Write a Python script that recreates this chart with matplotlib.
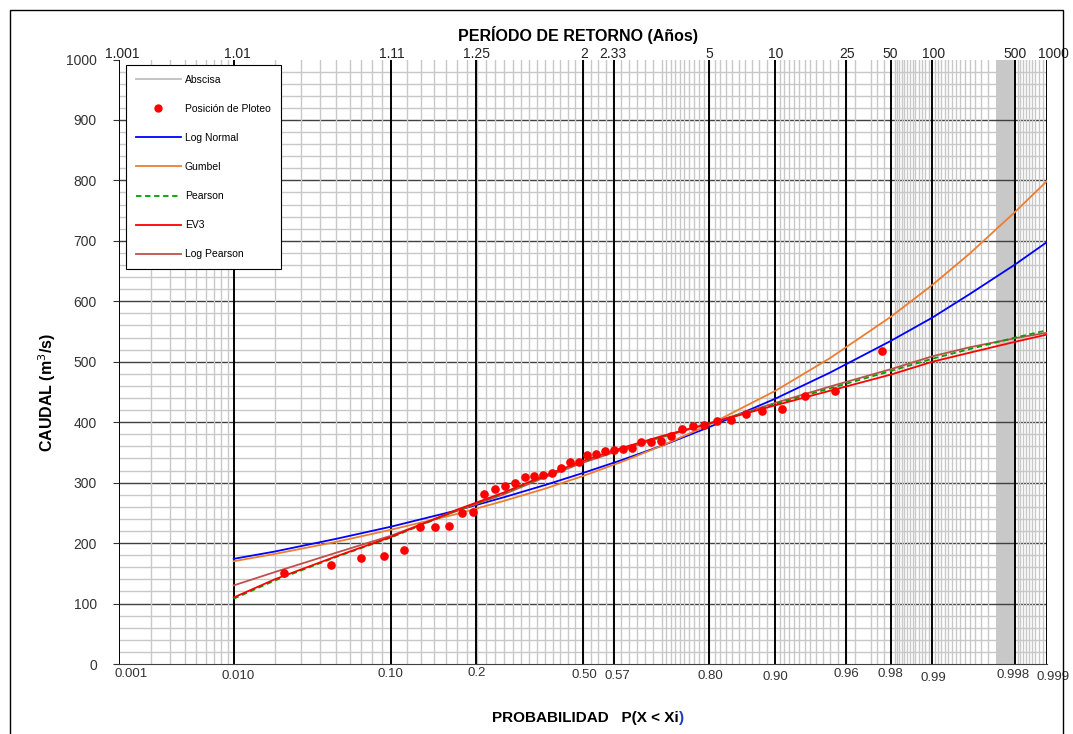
import matplotlib
matplotlib.use("Agg")
import matplotlib.pyplot as plt
from matplotlib.lines import Line2D
from matplotlib.patches import Rectangle
import numpy as np
from statistics import NormalDist

plt.rcParams['font.family'] = ['Liberation Sans', 'DejaVu Sans']

# plotting positions (Weibull m/(n+1), n = 42) and observed discharges
prob_obs = [0.0233, 0.0465, 0.0698, 0.0930, 0.1163, 0.1395, 0.1628, 0.1860, 0.2093, 0.2326,
            0.2558, 0.2791, 0.3023, 0.3256, 0.3488, 0.3721, 0.3953, 0.4186, 0.4419, 0.4651,
            0.4884, 0.5116, 0.5349, 0.5581, 0.5814, 0.6047, 0.6279, 0.6512, 0.6744, 0.6977,
            0.7209, 0.7442, 0.7674, 0.7907, 0.8140, 0.8372, 0.8605, 0.8837, 0.9070, 0.9302,
            0.9535, 0.9767]
caudal_obs = [150, 164, 175, 178, 189, 226, 227, 228, 249, 251,
              282, 290, 295, 299, 310, 311, 312, 316, 324, 334,
              334, 345, 347, 353, 354, 355, 357, 367, 367, 369,
              377, 389, 393, 396, 402, 403, 414, 419, 422, 444,
              452, 518]

# fitted distributions, read at these probabilities
prob_fit = [0.01, 0.02, 0.05, 0.1, 0.2, 0.3, 0.4, 0.5, 0.6, 0.7, 0.8, 0.9,
            0.95, 0.98, 0.99, 0.995, 0.998, 0.999]
log_normal = [174, 186, 207, 227, 254, 276, 296, 316, 337, 361, 392, 439, 482, 535, 573, 612, 661, 698]
gumbel = [170, 182, 202, 222, 248, 270, 290, 311, 334, 361, 396, 452, 506, 575, 627, 679, 748, 799]
pearson = [108, 138, 177, 209, 254, 283, 311, 335, 356, 376, 398, 430, 456, 485, 505, 521, 540, 552]
ev3 = [110, 140, 178, 210, 255, 284, 312, 336, 357, 377, 398, 428, 452, 479, 500, 515, 533, 545]
log_pearson = [130, 152, 184, 212, 253, 281, 309, 333, 354, 375, 398, 432, 459, 488, 509, 524, 539, 548]

# axis labels
prob_ticks = [0.001, 0.01, 0.1, 0.239, 0.5, 0.581, 0.8, 0.9, 0.96, 0.98, 0.99, 0.998, 0.999]
prob_labels = ['0.001', '0.010', '0.10', '0.2', '0.50', '0.57', '0.80', '0.90',
               '0.96', '0.98', '0.99', '0.998', '0.999']
period_labels = ['1.001', '1.01', '1.11', '1.25', '2', '2.33', '5', '10',
                 '25', '50', '100', '500', '1000']

# normal probability scale
nd = NormalDist()
_ppf = np.vectorize(lambda p: nd.inv_cdf(min(max(p, 1e-9), 1 - 1e-9)) if p == p else np.nan,
                    otypes=[float])
_cdf = np.vectorize(lambda z: nd.cdf(z) if z == z else np.nan, otypes=[float])


def fwd(p):
    return _ppf(np.asarray(p, dtype=float))


def inv(z):
    return _cdf(np.asarray(z, dtype=float))


fig = plt.figure(figsize=(10.73, 7.34), dpi=100)
ax = fig.add_axes([119 / 1073, 1 - 664 / 734, 928 / 1073, 604.5 / 734])
ax.set_xscale('function', functions=(fwd, inv))
ax.set_xlim(0.001, 0.999)
ax.set_ylim(0, 1000)

# probability paper grid
minor_p = np.concatenate([
    np.arange(0.002, 0.0095, 0.001),
    np.arange(0.02, 0.095, 0.01),
    np.arange(0.12, 0.70, 0.02),
    np.arange(0.70, 0.895, 0.01),
    np.arange(0.905, 0.97, 0.005),
    np.arange(0.9725, 0.98, 0.0025),
    np.arange(0.981, 0.99, 0.0007),
    np.arange(0.9905, 0.997, 0.0005),
    np.arange(0.9981, 0.999, 0.0001),
])
ax.axvspan(0.997, 0.998, color='#c8c8c8', lw=0, zorder=0.5)
for y in range(20, 1000, 20):
    if y % 100:
        ax.axhline(y, color='#c8c8c8', lw=1.0, zorder=0.6)
for y in range(100, 1000, 100):
    ax.axhline(y, color='#404040', lw=1.0, zorder=0.7)
for p in minor_p:
    ax.axvline(p, color='#c8c8c8', lw=1.0, zorder=0.8)
for p in prob_ticks:
    ax.axvline(p, color='black', lw=1.4, zorder=0.9)

# data
ax.plot(prob_fit, log_normal, color='#0000ff', lw=1.3, zorder=3)
ax.plot(prob_fit, gumbel, color='#ed7d31', lw=1.3, zorder=3)
ax.plot(prob_fit, log_pearson, color='#c0504d', lw=1.3, zorder=3)
ax.plot(prob_fit, pearson, color='#00a000', lw=1.3, ls=(0, (3, 2)), zorder=3)
ax.plot(prob_fit, ev3, color='#ff0000', lw=1.3, zorder=3.5)
ax.plot(prob_obs, caudal_obs, 'o', color='#ff0000', ms=5.2, zorder=4)

# axes style
ax.set_xticks([])
ax.set_xticks([], minor=True)
ax.set_yticks(range(0, 1001, 100))
ax.tick_params(axis='y', length=4, width=0.8, pad=12, labelsize=10, colors='#333333')
for s in ax.spines.values():
    s.set_visible(False)
ax.spines['bottom'].set_visible(True)
ax.spines['bottom'].set_color('#404040')

trans = ax.get_xaxis_transform()
bottom_dx = [12, 4, 0, 0, 1, 4, 1, 0, 1, -1, 1, -2, 6]
bottom_dy = [0, 2, 0, -1, 1, 2, 2, 3, 0, 0, 4, 1, 3]
for p, lab, dx, dy in zip(prob_ticks, prob_labels, bottom_dx, bottom_dy):
    ax.annotate(lab, (p, 0), xycoords=trans, xytext=(dx, -10 - dy), textcoords='offset pixels',
                ha='center', va='center', fontsize=9.5, color='#333333')
top_dx = [3, 4, 1, 0, 1, -1, 0, 0, 1, -1, 1, 0, 6]
for p, lab, dx in zip(prob_ticks, period_labels, top_dx):
    ax.annotate(lab, (p, 1), xycoords=trans, xytext=(dx, -1), textcoords='offset pixels',
                ha='center', va='bottom', fontsize=10, color='#222222')

fig.text(578 / 1073, 1 - 35 / 734, 'PERÍODO DE RETORNO (Años)', ha='center', va='center',
         fontsize=11.5, fontweight='bold')
xlab = fig.text(492 / 1073, 1 - 718 / 734, 'PROBABILIDAD   P(X < Xi', ha='left', va='center',
                fontsize=11, fontweight='bold')
ax.annotate(')', xy=(1, 0), xycoords=xlab, xytext=(0.5, 0), textcoords='offset points',
            ha='left', va='bottom', fontsize=11, fontweight='bold', color='#1f3fbf')
fig.text(47 / 1073, 1 - 392 / 734, 'CAUDAL (m$^3$/s)', ha='center', va='center',
         rotation=90, fontsize=11.5, fontweight='bold')

handles = [
    Line2D([], [], color='#bfbfbf', lw=1.3),
    Line2D([], [], color='#ff0000', marker='o', ls='none', ms=5),
    Line2D([], [], color='#0000ff', lw=1.3),
    Line2D([], [], color='#ed7d31', lw=1.3),
    Line2D([], [], color='#00a000', lw=1.3, ls=(0, (3, 2))),
    Line2D([], [], color='#ff0000', lw=1.3),
    Line2D([], [], color='#c0504d', lw=1.3),
]
labels = ['Abscisa', 'Posición de Ploteo', 'Log Normal', 'Gumbel', 'Pearson', 'EV3', 'Log Pearson']
leg = ax.legend(handles, labels, loc='upper left', bbox_to_anchor=(126 / 1073, 1 - 65 / 734),
                bbox_transform=fig.transFigure, fontsize=7.5, frameon=True, fancybox=False,
                edgecolor='black', framealpha=1, handlelength=4.3, handletextpad=0.4,
                labelspacing=1.83, borderpad=0.95, borderaxespad=0)
leg.get_frame().set_linewidth(0.8)
leg.set_zorder(10)

fig.add_artist(Rectangle((10 / 1073, -0.01), 1053 / 1073, 1 - 10 / 734 + 0.01,
                         transform=fig.transFigure, fill=False, edgecolor='black', lw=1))

fig.savefig('out.png', dpi=100)
